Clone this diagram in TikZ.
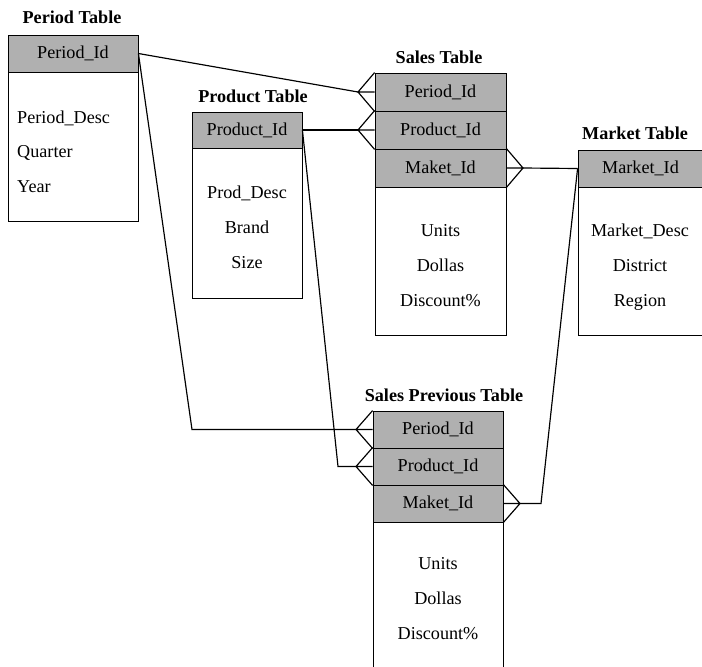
\documentclass[tikz,border=0pt]{standalone}
\usepackage{fontspec}
\setmainfont{Liberation Serif}
\newcommand{\tabfont}{\fontsize{15.5}{18}\selectfont}
\tikzset{
    keyrow/.style={draw, line width=0.7pt, fill=gray!62, inner sep=0pt,
        minimum height=1.11cm, font=\tabfont},
    tabbody/.style={draw, line width=0.7pt, fill=white, inner sep=0pt},
    tabtitle/.style={font=\tabfont\bfseries, inner sep=0pt},
    item/.style={font=\tabfont, inner sep=0pt, text height=1.6ex, text depth=0.25ex},
    link/.style={line width=1pt}
}
\begin{document}
\begin{tikzpicture}[x=0.03cm, y=-0.03cm]
        \useasboundingbox (0,0) rectangle (702,666);
        % Period Table
        \node[tabtitle] (pt-title) at (72,17) {Period Table};
        \node[tabbody, minimum width=3.9cm, minimum height=4.47cm] (pt-body) at (73,146.5) {};
        \node[keyrow, minimum width=3.9cm] (pt-id) at (73,53.5) {Period\_Id};
        \foreach \t [count=\i] in {Period\_Desc, Quarter, Year}
        {
            \node[item, anchor=west] (pt-f\i) at (17, 85+34.5*\i) {\t};
        }
        % Product Table
        \node[tabtitle] (pr-title) at (253,96) {Product Table};
        \node[tabbody, minimum width=3.3cm, minimum height=4.5cm] (pr-body) at (247,223) {};
        \node[keyrow, minimum width=3.3cm, minimum height=1.08cm] (pr-id) at (247,130) {Product\_Id};
        \foreach \t [count=\i] in {Prod\_Desc, Brand, Size}
        {
            \node[item] (pr-f\i) at (247, 160+35*\i) {\t};
        }
        % Sales Table
        \node[tabtitle] (s-title) at (439,57) {Sales Table};
        \node[tabbody, minimum width=3.93cm, minimum height=4.44cm] (s-body) at (440.5,261) {};
        \node[keyrow, minimum width=3.93cm, minimum height=1.14cm] (s-per) at (440.5,92) {Period\_Id};
        \node[keyrow, minimum width=3.93cm, minimum height=1.14cm] (s-pro) at (440.5,130) {Product\_Id};
        \node[keyrow, minimum width=3.93cm, minimum height=1.14cm] (s-mak) at (440.5,168) {Maket\_Id};
        \foreach \t [count=\i] in {Units, Dollas, Discount\%}
        {
            \node[item] (s-f\i) at (440.5, 198+35*\i) {\t};
        }
        % Market Table
        \node[tabtitle] (m-title) at (635,133) {Market Table};
        \node[tabbody, minimum width=3.75cm, minimum height=4.44cm] (m-body) at (640.5,261) {};
        \node[keyrow, minimum width=3.75cm] (m-id) at (640.5,168.5) {Market\_Id};
        \foreach \t [count=\i] in {Market\_Desc, District, Region}
        {
            \node[item] (m-f\i) at (640, 198+35*\i) {\t};
        }
        % Sales Previous Table
        \node[tabtitle] (sp-title) at (444,395) {Sales Previous Table};
        \node[tabbody, minimum width=3.9cm, minimum height=5.04cm] (sp-body) at (438,606) {};
        \node[keyrow, minimum width=3.9cm] (sp-per) at (438,429.5) {Period\_Id};
        \node[keyrow, minimum width=3.9cm] (sp-pro) at (438,466.5) {Product\_Id};
        \node[keyrow, minimum width=3.9cm] (sp-mak) at (438,503.5) {Maket\_Id};
        \foreach \t [count=\i] in {Units, Dollas, Discount\%}
        {
            \node[item] (sp-f\i) at (438, 531+35*\i) {\t};
        }
        % Crow's feet
        \coordinate (c1) at (358,92);
        \coordinate (c2) at (356,429.5);
        \coordinate (c3) at (358,130);
        \coordinate (c4) at (356,466.5);
        \coordinate (c5) at (523,168);
        \coordinate (c6) at (520,503.5);
        \foreach \r/\c in {s-per/c1, sp-per/c2, s-pro/c3, sp-pro/c4}
        {
            \draw[link] (\r.north west) -- (\c) -- (\r.south west) (\c) -- (\r.west);
        }
        \foreach \r/\c in {s-mak/c5, sp-mak/c6}
        {
            \draw[link] (\r.north east) -- (\c) -- (\r.south east) (\c) -- (\r.east);
        }
        % Links
        \coordinate (b1) at (192,429.5);
        \coordinate (b2) at (338,466.5);
        \coordinate (b3) at (541,503.5);
        \draw[link] (pt-id.east) -- (c1);
        \draw[link] (pt-id.east) -- (b1) -- (c2);
        \draw[link] (pr-id.east) -- (c3);
        \draw[link] (pr-id.east) -- (b2) -- (c4);
        \draw[link] (c5) -- (m-id.west);
        \draw[link] (c6) -- (b3) -- (m-id.west);
    \end{tikzpicture}
\end{document}
